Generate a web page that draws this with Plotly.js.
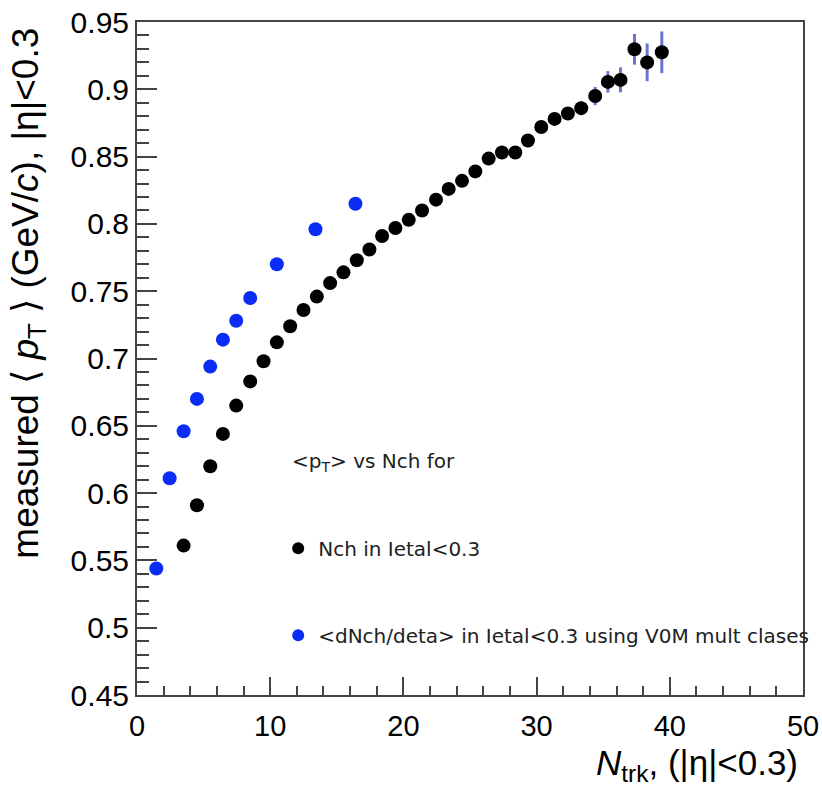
<!DOCTYPE html>
<html>
<head>
<meta charset="utf-8">
<script src="https://cdn.plot.ly/plotly-3.0.1.min.js"></script>
<style>html,body{margin:0;padding:0;background:#fff;}#chart{width:822px;height:789px;}</style>
</head>
<body>
<div id="chart"></div>
<script>
// Black series: <pT> vs Ntrk in |eta|<0.3
const nchX = [3.5, 4.5, 5.5, 6.45, 7.45, 8.5, 9.5, 10.5, 11.5, 12.5, 13.5, 14.5, 15.5, 16.5, 17.45, 18.4, 19.4, 20.4, 21.4, 22.45, 23.4, 24.4, 25.4, 26.4, 27.4, 28.4, 29.35, 30.35, 31.35, 32.35, 33.35, 34.4, 35.35, 36.3, 37.35, 38.3, 39.4];
const nchPt = [0.561, 0.591, 0.620, 0.644, 0.665, 0.683, 0.698, 0.712, 0.724, 0.736, 0.746, 0.756, 0.764, 0.773, 0.781, 0.791, 0.797, 0.803, 0.810, 0.818, 0.826, 0.832, 0.839, 0.8485, 0.853, 0.853, 0.862, 0.872, 0.878, 0.882, 0.886, 0.895, 0.9055, 0.907, 0.9297, 0.920, 0.9275];
const nchErr = [0.001, 0.001, 0.001, 0.001, 0.001, 0.001, 0.001, 0.001, 0.0012, 0.0012, 0.0013, 0.0014, 0.0015, 0.0016, 0.0017, 0.0018, 0.002, 0.0021, 0.0022, 0.0024, 0.0025, 0.0027, 0.0029, 0.003, 0.0032, 0.0034, 0.0036, 0.0038, 0.004, 0.0043, 0.005, 0.0067, 0.008, 0.0093, 0.0114, 0.014, 0.0155];
// Blue series: <dNch/deta> from V0M multiplicity classes
const v0mX = [1.45, 2.45, 3.5, 4.5, 5.5, 6.45, 7.45, 8.5, 10.5, 13.4, 16.4];
const v0mPt = [0.544, 0.611, 0.646, 0.670, 0.694, 0.714, 0.728, 0.745, 0.770, 0.796, 0.815];

const xTickVals = [0, 10, 20, 30, 40, 50];
const yTickVals = [0.45, 0.5, 0.55, 0.6, 0.65, 0.7, 0.75, 0.8, 0.85, 0.9, 0.95];
const yTickText = ['0.45', '0.5', '0.55', '0.6', '0.65', '0.7', '0.75', '0.8', '0.85', '0.9', '0.95'];

const FONT = 'Liberation Sans, Arial, Helvetica, sans-serif';
const LFONT = 'DejaVu Sans, Liberation Sans, sans-serif';
const AX = '#444';

const traces = [
  {
    x: nchX, y: nchPt, type: 'scatter', mode: 'markers',
    name: 'Nch in Ietal&lt;0.3', legendgroup: 'a',
    marker: {color: '#000000', size: 14},
    error_y: {type: 'data', array: nchErr, visible: true, color: '#6a75d0', thickness: 3, width: 0},
    cliponaxis: false
  },
  {
    x: v0mX, y: v0mPt, type: 'scatter', mode: 'markers',
    name: '&lt;dNch/deta&gt; in Ietal&lt;0.3 using V0M mult clases', legendgroup: 'b',
    marker: {color: '#0a2cf5', size: 14},
    cliponaxis: false
  }
];

const layout = {
  width: 822, height: 789,
  margin: {l: 137, r: 19, t: 22, b: 94, autoexpand: false},
  paper_bgcolor: '#ffffff', plot_bgcolor: '#ffffff',
  font: {family: FONT, color: '#000'},
  showlegend: true,
  legend: {
    x: 0.212, y: 0.247, xanchor: 'left', yanchor: 'top',
    bgcolor: 'rgba(0,0,0,0)', borderwidth: 0,
    font: {family: LFONT, size: 20, color: '#222'},
    tracegroupgap: 58, itemsizing: 'constant'
  },
  xaxis: {
    range: [0, 50], tickvals: xTickVals, ticktext: xTickVals.map(String),
    ticks: 'inside', ticklen: 18, tickwidth: 2, tickcolor: AX,
    minor: {dtick: 2, ticks: 'inside', ticklen: 9, tickwidth: 2, tickcolor: AX},
    showline: true, linecolor: AX, linewidth: 2, mirror: true,
    showgrid: false, zeroline: false,
    tickfont: {family: FONT, size: 29, color: '#000'},
    ticklabelstandoff: 4
  },
  yaxis: {
    range: [0.45, 0.95], tickvals: yTickVals, ticktext: yTickText,
    ticks: 'inside', ticklen: 20, tickwidth: 2, tickcolor: AX,
    minor: {dtick: 0.01, ticks: 'inside', ticklen: 12, tickwidth: 2, tickcolor: AX},
    showline: true, linecolor: AX, linewidth: 2, mirror: true,
    showgrid: false, zeroline: false,
    tickfont: {family: FONT, size: 30, color: '#000'}
  },
  annotations: [
    {
      xref: 'paper', yref: 'paper', x: -0.164, y: 0.995, xanchor: 'center', yanchor: 'top',
      textangle: -90, showarrow: false,
      text: 'measured ⟨ <i>p</i><sub>T</sub> ⟩ (GeV/<i>c</i>), |η|&lt;0.3',
      font: {family: FONT, size: 37, color: '#000'}
    },
    {
      xref: 'paper', yref: 'paper', x: 0.9955, y: -0.104, xanchor: 'right', yanchor: 'middle',
      showarrow: false,
      text: '<i>N</i><sub>trk</sub>, (|η|&lt;0.3)',
      font: {family: FONT, size: 35, color: '#000'}
    },
    {
      xref: 'paper', yref: 'paper', x: 0.2297, y: 0.346, xanchor: 'left', yanchor: 'middle',
      showarrow: false,
      text: '&lt;p<sub>T</sub>&gt; vs Nch for',
      font: {family: LFONT, size: 20, color: '#222'}
    }
  ]
};

Plotly.newPlot('chart', traces, layout, {displayModeBar: false, staticPlot: true});
</script>
</body>
</html>
